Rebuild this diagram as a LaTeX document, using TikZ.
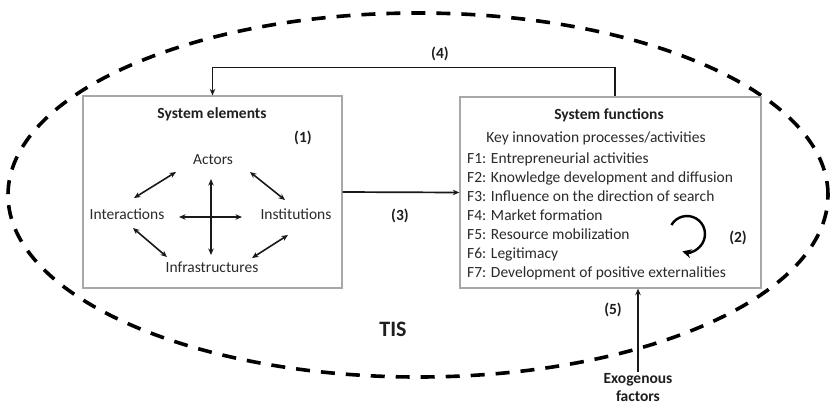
\documentclass[tikz,border=0pt]{standalone}
\usepackage{fontspec}
\setmainfont{Carlito}
\usetikzlibrary{arrows.meta}
\definecolor{txt}{HTML}{2A2A2A}
\definecolor{boxc}{HTML}{A8A8A8}
\begin{document}
\begin{tikzpicture}[x=1pt,y=-1pt,
  lbl/.style={font=\fontsize{15.5}{18}\selectfont, text=txt, inner sep=1pt, anchor=base},
  bold/.style={font=\fontsize{15.5}{18}\selectfont\bfseries, text=black!88, inner sep=1pt, anchor=base},
  item/.style={font=\fontsize{15.5}{18}\selectfont, text=txt, inner sep=0pt, anchor=base west},
  frame/.style={draw=boxc, line width=1.3pt, inner sep=0pt},
  arr/.style={draw=black!90, line width=1.7pt, -{Stealth[length=6.5pt,width=5.5pt]}},
  darr/.style={draw=black!90, line width=1.6pt, {Stealth[length=6.5pt,width=5.5pt]}-{Stealth[length=6.5pt,width=5.5pt]}},
  carr/.style={draw=black, line width=2.4pt, -{Stealth[length=9pt,width=9pt]}},
  tis/.style={draw=black, line width=3.6pt, dash pattern=on 14pt off 11pt}]
\useasboundingbox (0,0) rectangle (830,408);
\fill[white] (0,0) rectangle (830,408);

% boundary
\draw[tis] (418,195) ellipse [x radius=410pt, y radius=182pt];

% boxes
\node[frame, minimum width=259pt, minimum height=192pt] (se) at (212.5,192) {};
\node[frame, minimum width=301pt, minimum height=191pt] (sf) at (610.5,192.5) {};

% system elements
\node[bold] (setitle) at (212,118) {System elements};
\node[bold] (one) at (303,142) {(1)};
\node[lbl] (act) at (213,164) {Actors};
\node[lbl] (int) at (127,219) {Interactions};
\node[lbl] (ins) at (296,219) {Institutions};
\node[lbl] (infr) at (212,272) {Infrastructures};

\draw[darr] ([shift={(-37,8)}]act.base) -- ([shift={(7,-21)}]int.base);
\draw[darr] ([shift={(37,8)}]act.base) -- ([shift={(-11,-19)}]ins.base);
\draw[darr] ([shift={(6,9)}]int.base) -- ([shift={(-45,-15)}]infr.base);
\draw[darr] ([shift={(-8,16)}]ins.base) -- ([shift={(40,-14)}]infr.base);
\draw[darr] ([shift={(52,-2)}]int.base) -- ([shift={(-54,-2)}]ins.base);
\draw[darr] ([shift={(-2,15)}]act.base) -- ([shift={(-1,-17)}]infr.base);

% system functions
\node[bold] (sftitle) at (609,119) {System functions};
\node[lbl] (key) at (596,142) {Key innovation processes/activities};
\node[item] (f1) at (467,163) {F1: Entrepreneurial activities};
\node[item] (f2) at (467,182) {F2: Knowledge development and diffusion};
\node[item] (f3) at (467,201) {F3: Influence on the direction of search};
\node[item] (f4) at (467,220) {F4: Market formation};
\node[item] (f5) at (467,239) {F5: Resource mobilization};
\node[item] (f6) at (467,258) {F6: Legitimacy};
\node[item] (f7) at (467,277) {F7: Development of positive externalities};
\coordinate (cyc) at (687,234);
\draw[carr] (cyc) ++(150:18pt) arc[start angle=150, end angle=-105, radius=18pt];
\node[bold] (two) at (738,242) {(2)};

% connectors
\draw[arr] (se.east) -- (sf.west);
\node[bold] (three) at (400,220) {(3)};

\draw[arr] ([xshift=4.5]sf.north) -- ++(0,-29) -| (se.north);
\node[bold] (four) at (440,58) {(4)};

\node[bold, align=center, anchor=north] (exo) at (638,372) {Exogenous\\factors};
\draw[arr] (exo.north) -- (exo.north |- sf.south);
\node[bold] (five) at (613,314) {(5)};

\node[bold, font=\fontsize{22}{26}\selectfont\bfseries] (tisl) at (393,336) {TIS};
\end{tikzpicture}
\end{document}
